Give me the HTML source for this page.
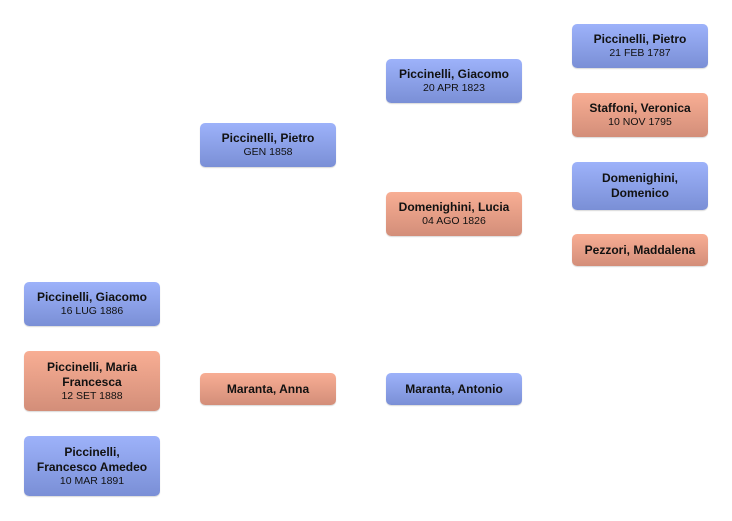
<!DOCTYPE html>
<html><head><meta charset="utf-8"><style>
html,body{margin:0;padding:0;background:#fff;width:732px;height:521px;overflow:hidden;position:relative}
.b{position:absolute;width:136px;border-radius:5px;display:flex;flex-direction:column;justify-content:center;align-items:center;text-align:center;font-family:"Liberation Sans","DejaVu Sans",sans-serif;color:#111;box-shadow:0 1px 1px rgba(0,0,0,0.15)}
.m{background:linear-gradient(#9db2fa,#7a8fd6)}
.f{background:linear-gradient(#f8ae94,#d38e79)}
.n{font-weight:bold;font-size:12px;line-height:15px}
.d{font-size:10.5px;line-height:13px}
</style></head><body>
<div class="b m" style="left:24px;top:282px;height:44px"><div class="n">Piccinelli, Giacomo</div><div class="d">16 LUG 1886</div></div>
<div class="b f" style="left:24px;top:351px;height:60px"><div class="n">Piccinelli, Maria<br>Francesca</div><div class="d">12 SET 1888</div></div>
<div class="b m" style="left:24px;top:436px;height:60px"><div class="n">Piccinelli,<br>Francesco Amedeo</div><div class="d">10 MAR 1891</div></div>
<div class="b m" style="left:200px;top:123px;height:44px"><div class="n">Piccinelli, Pietro</div><div class="d">GEN 1858</div></div>
<div class="b f" style="left:200px;top:373px;height:32px"><div class="n">Maranta, Anna</div></div>
<div class="b m" style="left:386px;top:59px;height:44px"><div class="n">Piccinelli, Giacomo</div><div class="d">20 APR 1823</div></div>
<div class="b f" style="left:386px;top:192px;height:44px"><div class="n">Domenighini, Lucia</div><div class="d">04 AGO 1826</div></div>
<div class="b m" style="left:386px;top:373px;height:32px"><div class="n">Maranta, Antonio</div></div>
<div class="b m" style="left:572px;top:24px;height:44px"><div class="n">Piccinelli, Pietro</div><div class="d">21 FEB 1787</div></div>
<div class="b f" style="left:572px;top:93px;height:44px"><div class="n">Staffoni, Veronica</div><div class="d">10 NOV 1795</div></div>
<div class="b m" style="left:572px;top:162px;height:48px"><div class="n">Domenighini,<br>Domenico</div></div>
<div class="b f" style="left:572px;top:234px;height:32px"><div class="n">Pezzori, Maddalena</div></div>
</body></html>
